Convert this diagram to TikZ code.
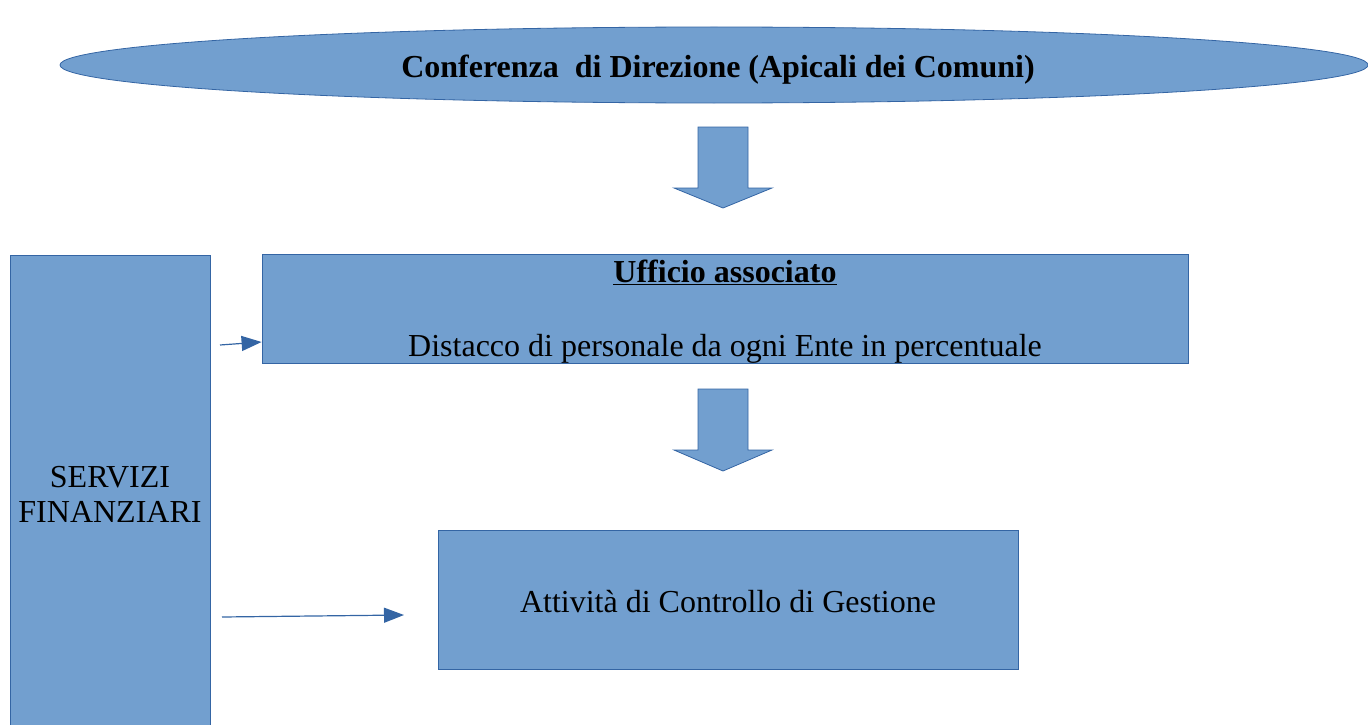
\documentclass[tikz,border=0pt]{standalone}
\usepackage{fontspec}
\setmainfont{Liberation Serif}
\usetikzlibrary{shapes.geometric,arrows.meta}
\definecolor{boxfill}{HTML}{729FCF}
\definecolor{boxline}{HTML}{3465A4}
\tikzset{
  blk/.style={draw=boxline, fill=boxfill, line width=0.8pt, inner sep=0pt, font=\fontsize{32}{38}\selectfont, align=center},
  bigarrow/.style={draw=boxline, fill=boxfill, line width=0.8pt},
  thinarrow/.style={draw=boxline, line width=1.2pt, -{Triangle[length=20pt,width=15pt]}}
}
\begin{document}
\begin{tikzpicture}[x=1pt,y=-1pt]
\useasboundingbox (0,0) rectangle (1368,725);
\begin{scope}
\clip (0,0) rectangle (1368,725);
\node[blk, ellipse, minimum width=1308pt, minimum height=76pt] (conf) at (714,65) {};
\node[font=\bfseries\fontsize{32}{38}\selectfont] (conft) at (718,70) {Conferenza\ \ di Direzione (Apicali dei Comuni)};
\node[blk, minimum width=200pt, minimum height=480pt] (serv) at (110,495) {};
\node[font=\fontsize{32}{35}\selectfont, align=center] (servt) at (110,494) {SERVIZI\\FINANZIARI};
\end{scope}
\node[blk, minimum width=926pt, minimum height=109pt] (uff) at (725,308.5) {};
\node[font=\fontsize{32}{74}\selectfont, align=center] (ufft) at (725,312) {\textbf{\underline{Ufficio associato}}\\Distacco di personale da ogni Ente in percentuale};
\node[blk, minimum width=580pt, minimum height=139pt] (ctrl) at (728,599.5) {};
\node[font=\fontsize{32}{38}\selectfont] (ctrlt) at (728,602) {Attività di Controllo di Gestione};
% block arrows
\draw[bigarrow] (698,127) -- (748,127) -- (748,188) -- (772,188) -- (723,208) -- (674,188) -- (698,188) -- cycle;
\draw[bigarrow] (698,389) -- (748,389) -- (748,450) -- (772,450) -- (723,471) -- (674,450) -- (698,450) -- cycle;
% thin arrows
\coordinate (s1) at (220,345);
\coordinate (s2) at (222,617);
\coordinate (e2) at (404,615);
\draw[thinarrow] (s1) -- (uff.west |- 0,342);
\draw[thinarrow] (s2) -- (e2);
\end{tikzpicture}
\end{document}
